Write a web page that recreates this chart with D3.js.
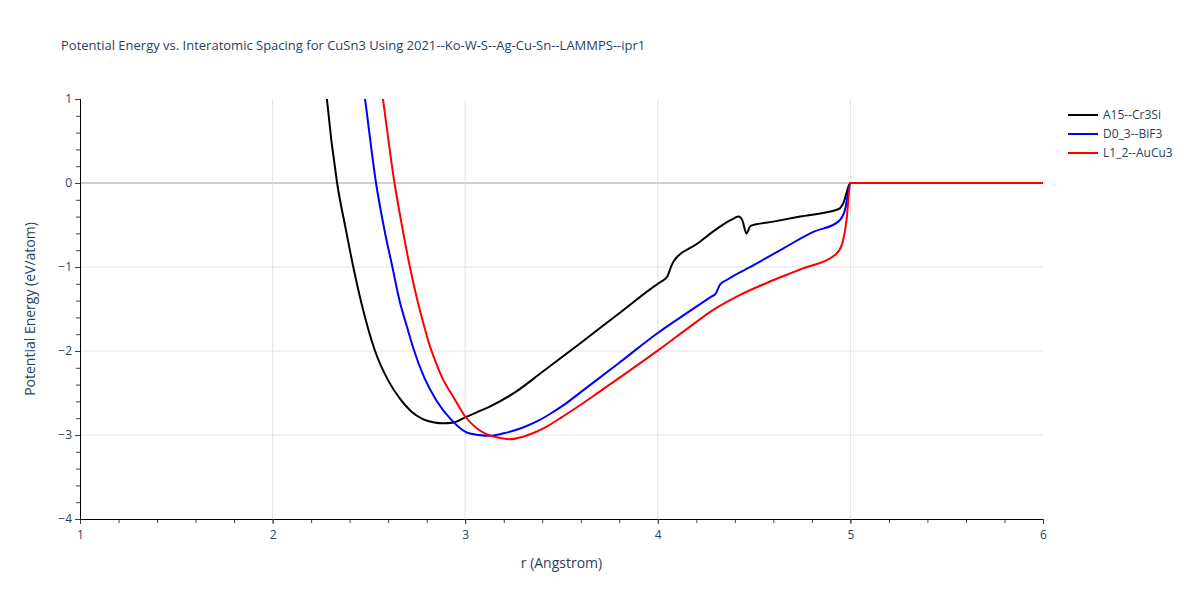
<!DOCTYPE html>
<html>
<head>
<meta charset="utf-8">
<script src="https://cdn.jsdelivr.net/npm/d3@7"></script>
<style>
  body { margin: 0; background: #fff; }
  text { font-family: "Open Sans", "DejaVu Sans", sans-serif; fill: #2a3f5f; }
</style>
</head>
<body>
<script>
// series names and colours
var seriesNames = ["A15--Cr3Si", "D0_3--BiF3", "L1_2--AuCu3"];
var seriesColors = ["#000000", "#0000ff", "#ff0000"];

// r (Angstrom) and energy (eV/atom)
var rA15 = [2.26, 2.282, 2.335, 2.38, 2.419, 2.457, 2.532, 2.60, 2.665, 2.72, 2.78, 2.84, 2.886, 2.94, 3.0, 3.06, 3.13, 3.26, 3.40, 3.596, 3.80, 4.0, 4.02, 4.05, 4.07, 4.084, 4.2, 4.323, 4.38, 4.42, 4.44, 4.46, 4.482, 4.6, 4.75, 4.937, 4.963, 5.0, 6.0];
var eA15 = [1.6, 1.0, 0, -0.55, -1.0, -1.39, -2.0, -2.35, -2.58, -2.72, -2.81, -2.85, -2.86, -2.85, -2.79, -2.73, -2.66, -2.49, -2.25, -1.91, -1.55, -1.20, -1.17, -1.11, -0.99, -0.925, -0.73, -0.52, -0.44, -0.40, -0.45, -0.60, -0.51, -0.46, -0.395, -0.313, -0.24, 0, 0];

var rD03 = [2.45, 2.48, 2.537, 2.58, 2.622, 2.658, 2.70, 2.731, 2.79, 2.848, 2.92, 3.008, 3.07, 3.13, 3.20, 3.30, 3.38, 3.44, 3.52, 3.60, 3.80, 4.003, 4.15, 4.28, 4.30, 4.323, 4.357, 4.5, 4.65, 4.81, 4.937, 4.972, 5.0, 6.0];
var eD03 = [1.5, 1.0, 0, -0.55, -1.0, -1.39, -1.73, -1.97, -2.33, -2.58, -2.80, -2.97, -3.0, -3.01, -2.98, -2.91, -2.83, -2.75, -2.63, -2.49, -2.14, -1.78, -1.55, -1.35, -1.32, -1.21, -1.155, -0.975, -0.78, -0.58, -0.46, -0.32, 0, 0];

var rL12 = [2.54, 2.573, 2.633, 2.675, 2.713, 2.751, 2.79, 2.815, 2.845, 2.875, 2.947, 3.0, 3.06, 3.11, 3.17, 3.23, 3.30, 3.36, 3.43, 3.50, 3.60, 3.70, 3.856, 4.003, 4.15, 4.288, 4.42, 4.565, 4.75, 4.92, 4.955, 4.98, 5.0, 6.0];
var eL12 = [1.55, 1.0, 0, -0.55, -1.0, -1.39, -1.73, -1.93, -2.12, -2.29, -2.58, -2.78, -2.92, -2.99, -3.03, -3.05, -3.02, -2.97, -2.89, -2.79, -2.64, -2.48, -2.23, -1.99, -1.74, -1.51, -1.34, -1.19, -1.02, -0.857, -0.74, -0.44, 0, 0];

var xTicks = [1, 2, 3, 4, 5, 6];
var yTicks = [1, 0, -1, -2, -3, -4];

var allR = [rA15, rD03, rL12];
var allE = [eA15, eD03, eL12];

var W = 1200, H = 600;
var pLeft = 80, pRight = 1043, pTop = 99, pBottom = 519;

var svg = d3.select("body").append("svg")
    .attr("width", W)
    .attr("height", H);

var x = d3.scaleLinear().domain([1, 6]).range([pLeft, pRight]);
var y = d3.scaleLinear().domain([-4, 1]).range([pBottom, pTop]);

// grid
svg.append("g").selectAll("line")
    .data(xTicks.filter(function(d) { return d > 1 && d < 6; }))
    .enter().append("line")
    .attr("x1", function(d) { return x(d); })
    .attr("x2", function(d) { return x(d); })
    .attr("y1", pTop).attr("y2", pBottom)
    .attr("stroke", "#e2e2e2").attr("stroke-width", 1);

svg.append("g").selectAll("line")
    .data(yTicks.filter(function(d) { return d !== 0 && d > -4 && d < 1; }))
    .enter().append("line")
    .attr("x1", pLeft).attr("x2", pRight)
    .attr("y1", function(d) { return y(d); })
    .attr("y2", function(d) { return y(d); })
    .attr("stroke", "#e2e2e2").attr("stroke-width", 1);

// zero line
svg.append("line")
    .attr("x1", pLeft).attr("x2", pRight)
    .attr("y1", y(0)).attr("y2", y(0))
    .attr("stroke", "#cfcfcf").attr("stroke-width", 2);

// lines
svg.append("clipPath").attr("id", "clip")
    .append("rect").attr("x", pLeft).attr("y", pTop)
    .attr("width", pRight - pLeft).attr("height", pBottom - pTop);

var line = d3.line()
    .x(function(d) { return x(d[0]); })
    .y(function(d) { return y(d[1]); })
    .curve(d3.curveMonotoneX);

var plot = svg.append("g").attr("clip-path", "url(#clip)");
for (var s = 0; s < seriesNames.length; s++) {
    var pts = allR[s].map(function(r, i) { return [r, allE[s][i]]; });
    plot.append("path")
        .datum(pts)
        .attr("d", line)
        .attr("fill", "none")
        .attr("stroke", seriesColors[s])
        .attr("stroke-width", 2)
        .attr("stroke-linejoin", "round");
}

// axes
var xAxis = svg.append("g").attr("transform", "translate(0," + pBottom + ")");
xAxis.call(d3.axisBottom(x).tickValues(d3.range(1, 6.001, 0.2)).tickSize(4).tickFormat(""));
xAxis.append("g").call(d3.axisBottom(x).tickValues(xTicks).tickSize(5).tickPadding(6).tickFormat(d3.format("d")));
xAxis.selectAll(".domain").attr("stroke", "#000");

var yAxis = svg.append("g").attr("transform", "translate(" + pLeft + ",0)");
yAxis.call(d3.axisLeft(y).tickValues(d3.range(-4, 1.001, 0.2)).tickSize(4).tickFormat(""));
yAxis.append("g").call(d3.axisLeft(y).tickValues(yTicks).tickSize(5).tickPadding(3)
    .tickFormat(function(d) { return d < 0 ? "\u2212" + Math.abs(d) : d; }));
yAxis.selectAll(".domain").attr("stroke", "#000");

svg.selectAll(".tick text")
    .style("font-size", "12px")
    .style("fill", "#2a3f5f")
    .style("font-family", "'Open Sans', 'DejaVu Sans', sans-serif");
svg.selectAll(".tick line").attr("stroke", "#444");

// titles
svg.append("text")
    .attr("x", 61).attr("y", 50)
    .style("font-size", "13px")
    .text("Potential Energy vs. Interatomic Spacing for CuSn3 Using 2021--Ko-W-S--Ag-Cu-Sn--LAMMPS--ipr1");

svg.append("text")
    .attr("x", (pLeft + pRight) / 2).attr("y", 568)
    .attr("text-anchor", "middle")
    .style("font-size", "14px")
    .text("r (Angstrom)");

svg.append("text")
    .attr("transform", "translate(35," + ((pTop + pBottom) / 2) + ") rotate(-90)")
    .attr("text-anchor", "middle")
    .style("font-size", "14px")
    .text("Potential Energy (eV/atom)");

// legend
var legend = svg.append("g").attr("transform", "translate(1068,115)");
var items = legend.selectAll("g").data(seriesNames).enter().append("g")
    .attr("transform", function(d, i) { return "translate(0," + (i * 19) + ")"; });
items.append("line")
    .attr("x1", 0).attr("x2", 30).attr("y1", 0).attr("y2", 0)
    .attr("stroke", function(d, i) { return seriesColors[i]; })
    .attr("stroke-width", 2);
items.append("text")
    .attr("x", 35).attr("y", 4)
    .style("font-size", "12px")
    .text(function(d) { return d; });
</script>
</body>
</html>
